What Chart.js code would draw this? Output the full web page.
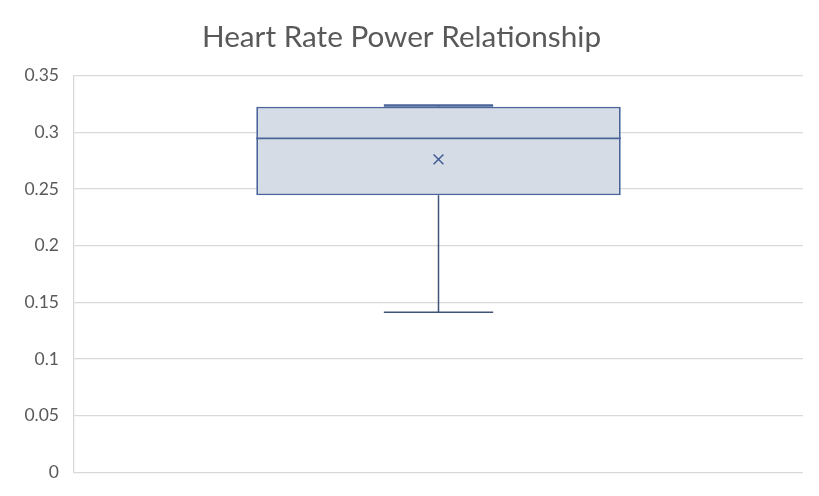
<!DOCTYPE html>
<html>
<head>
<meta charset="utf-8">
<script src="https://cdn.jsdelivr.net/npm/chart.js@4"></script>
<style>
html,body{margin:0;padding:0;background:#fff;}
#wrap{width:819px;height:496px;}
</style>
</head>
<body>
<div id="wrap"><canvas id="c"></canvas></div>
<script>
const categories = [''];
const minValues = [0.1412];
const q1Values = [0.2445];
const medianValues = [0.2948];
const q3Values = [0.3226];
const maxValues = [0.3238];
const meanValues = [0.2762];
const yTicks = [0, 0.05, 0.1, 0.15, 0.2, 0.25, 0.3, 0.35];

const boxColor = '#4a6599';
const whiskerColor = '#3f5277';

const whiskerPlugin = {
  id: 'whiskers',
  afterDatasetsDraw(chart) {
    const ctx = chart.ctx;
    const y = chart.scales.y;
    const meta = chart.getDatasetMeta(0);
    ctx.save();
    categories.forEach((c, i) => {
      const bar = meta.data[i];
      const cx = bar.x;
      const half = bar.width / 2;
      const capHalf = bar.width * 0.15;
      const yMin = y.getPixelForValue(minValues[i]);
      const yQ1 = y.getPixelForValue(q1Values[i]);
      const yQ3 = y.getPixelForValue(q3Values[i]);
      const yMax = y.getPixelForValue(maxValues[i]);
      const yMed = y.getPixelForValue(medianValues[i]);
      ctx.lineWidth = 1.5;
      ctx.strokeStyle = whiskerColor;
      ctx.beginPath();
      ctx.moveTo(cx, yQ1); ctx.lineTo(cx, yMin);
      ctx.moveTo(cx - capHalf, yMin); ctx.lineTo(cx + capHalf, yMin);
      ctx.moveTo(cx, yQ3); ctx.lineTo(cx, yMax);
      ctx.stroke();
      ctx.strokeStyle = boxColor;
      ctx.lineWidth = 2.5;
      ctx.beginPath();
      ctx.moveTo(cx - capHalf, yMax); ctx.lineTo(cx + capHalf, yMax);
      ctx.stroke();
      ctx.lineWidth = 1.8;
      ctx.beginPath();
      ctx.moveTo(cx - half, yMed); ctx.lineTo(cx + half, yMed);
      ctx.stroke();
    });
    ctx.restore();
  }
};

new Chart(document.getElementById('c'), {
  data: {
    labels: categories,
    datasets: [
      {
        type: 'bar',
        label: 'Box',
        data: q1Values.map((q, i) => [q, q3Values[i]]),
        backgroundColor: '#d6dce5',
        borderColor: boxColor,
        borderWidth: 1.8,
        borderSkipped: false,
        barPercentage: 0.5,
        categoryPercentage: 1.0,
        order: 2
      },
      {
        type: 'line',
        label: 'Mean',
        data: meanValues,
        showLine: false,
        pointStyle: 'crossRot',
        pointRadius: 7,
        pointBorderWidth: 1.5,
        borderColor: '#3f5a94',
        backgroundColor: '#3f5a94',
        order: 1
      }
    ]
  },
  options: {
    responsive: true,
    maintainAspectRatio: false,
    animation: false,
    layout: { padding: { left: 0, right: 16, top: 8, bottom: 23.7 } },
    plugins: {
      legend: { display: false },
      tooltip: { enabled: false },
      title: {
        display: true,
        text: 'Heart Rate Power Relationship',
        color: '#595959',
        font: { family: 'Lato', size: 29.7, weight: 'normal' },
        padding: { top: 11.7, bottom: 20.4 }
      }
    },
    scales: {
      x: {
        type: 'category',
        display: false
      },
      y: {
        min: 0,
        max: 0.35,
        afterBuildTicks(axis) { axis.ticks = yTicks.map(v => ({ value: v })); },
        afterFit(axis) { axis.width = 74; axis.paddingTop = 0; axis.paddingBottom = 0; },
        ticks: {
          color: '#595959',
          font: { family: 'Lato', size: 17.5 },
          padding: 15,
          callback: v => String(Number(v.toFixed(2)))
        },
        grid: { color: '#d9d9d9', lineWidth: 1.3, drawTicks: false },
        border: { display: true, color: '#d9d9d9', width: 1.3 }
      }
    }
  },
  plugins: [whiskerPlugin]
});
</script>
</body>
</html>
